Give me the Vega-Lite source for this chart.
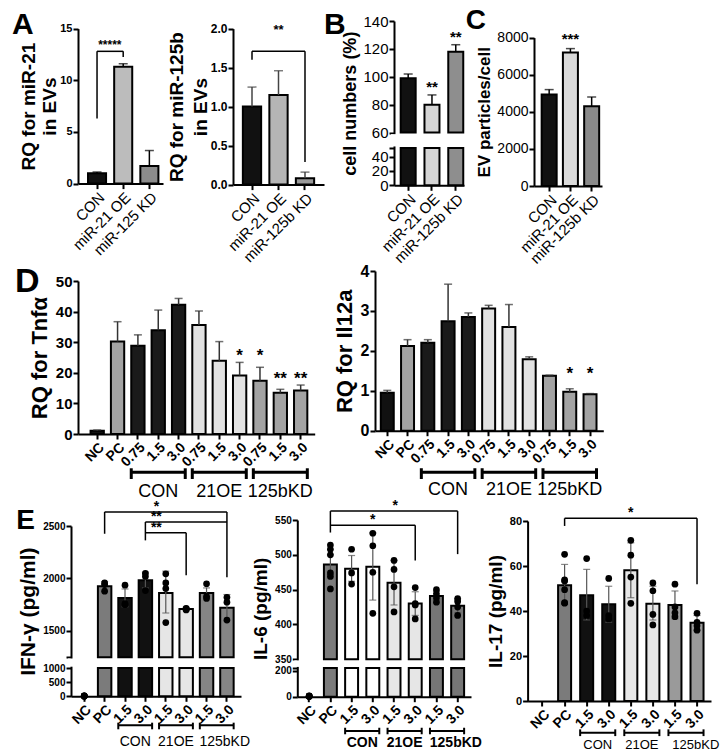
{
"$schema": "https://vega.github.io/schema/vega-lite/v6.json",
"background": "white",
"padding": {"left": 12, "top": 6, "right": 2, "bottom": 2},
"autosize": {"type": "pad"},
"config": {
 "view": {"stroke": null},
 "font": "Liberation Sans",
 "axis": {"domainColor": "#000", "domainWidth": 2, "tickColor": "#000", "tickWidth": 2, "tickSize": 5, "labelColor": "#000", "titleColor": "#000", "titleFontWeight": "bold", "grid": false, "labelPadding": 1, "labelOverlap": false, "labelFont": "Liberation Sans", "titleFont": "Liberation Sans"},
 "title": {"font": "Liberation Sans", "fontWeight": "bold", "color": "#000", "anchor": "start", "frame": "group"},
 "text": {"font": "Liberation Sans", "color": "#000"},
 "rule": {"color": "#000"},
 "tick": {"color": "#000"}
},
"datasets": {
 "a1": [{"cat":"CON","mean":1.0,"err":1.12},{"cat":"miR-21 OE","mean":11.3,"err":11.6},{"cat":"miR-125 KD","mean":1.7,"err":3.2}],
 "a2": [{"cat":"CON","mean":1.0,"err":1.25},{"cat":"miR-21 OE","mean":1.15,"err":1.46},{"cat":"miR-125b KD","mean":0.08,"err":0.16}],
 "b": [{"cat":"CON","mean":99,"err":102,"sig":""},{"cat":"miR-21 OE","mean":80,"err":87,"sig":"**"},{"cat":"miR-125b KD","mean":118,"err":123,"sig":"**"}],
 "c": [{"cat":"CON","mean":4927,"err":5197,"sig":""},{"cat":"miR-21 OE","mean":7191,"err":7407,"sig":"***"},{"cat":"miR-125b KD","mean":4296,"err":4798,"sig":""}],
 "d1": [
  {"cat":"NC","grp":"NC","mean":1.1,"err":1.3},
  {"cat":"PC","grp":"PC","mean":30.2,"err":36.7},
  {"cat":"CON 0.75","grp":"CON","mean":28.8,"err":32.4},
  {"cat":"CON 1.5","grp":"CON","mean":33.9,"err":40.5},
  {"cat":"CON 3.0","grp":"CON","mean":42.2,"err":44.3},
  {"cat":"21OE 0.75","grp":"21OE","mean":35.6,"err":40.2},
  {"cat":"21OE 1.5","grp":"21OE","mean":23.9,"err":30.2},
  {"cat":"21OE 3.0","grp":"21OE","mean":19.1,"err":23.4},
  {"cat":"125bKD 0.75","grp":"125bKD","mean":17.4,"err":21.8},
  {"cat":"125bKD 1.5","grp":"125bKD","mean":13.5,"err":14.6},
  {"cat":"125bKD 3.0","grp":"125bKD","mean":14.2,"err":16.0}],
 "d2": [
  {"cat":"NC","grp":"NC","mean":0.95,"err":1.01},
  {"cat":"PC","grp":"PC","mean":2.12,"err":2.28},
  {"cat":"CON 0.75","grp":"CON","mean":2.2,"err":2.28},
  {"cat":"CON 1.5","grp":"CON","mean":2.74,"err":3.67},
  {"cat":"CON 3.0","grp":"CON","mean":2.85,"err":2.95},
  {"cat":"21OE 0.75","grp":"21OE","mean":3.06,"err":3.14},
  {"cat":"21OE 1.5","grp":"21OE","mean":2.6,"err":3.16},
  {"cat":"21OE 3.0","grp":"21OE","mean":1.79,"err":1.85},
  {"cat":"125bKD 0.75","grp":"125bKD","mean":1.375,"err":1.39},
  {"cat":"125bKD 1.5","grp":"125bKD","mean":0.975,"err":1.05},
  {"cat":"125bKD 3.0","grp":"125bKD","mean":0.91,"err":0.93}],
 "dsig1": [{"cat":"21OE 3.0","sig":"*"},{"cat":"125bKD 0.75","sig":"*"},{"cat":"125bKD 1.5","sig":"**"},{"cat":"125bKD 3.0","sig":"**"}],
 "dsig2": [{"cat":"125bKD 1.5","sig":"*"},{"cat":"125bKD 3.0","sig":"*"}],
 "dgroups": [{"g":"CON","first":"CON 0.75","last":"CON 3.0","mid":"CON 1.5"},{"g":"21OE","first":"21OE 0.75","last":"21OE 3.0","mid":"21OE 1.5"},{"g":"125bKD","first":"125bKD 0.75","last":"125bKD 3.0","mid":"125bKD 1.5"}],
 "egroups": [{"g":"CON","first":"CON 1.5","last":"CON 3.0"},{"g":"21OE","first":"21OE 1.5","last":"21OE 3.0"},{"g":"125bKD","first":"125bKD 1.5","last":"125bKD 3.0"}],
 "e1": [
  {"cat":"PC","grp":"PC","mean":1926,"lo":1880,"hi":1970},
  {"cat":"CON 1.5","grp":"CON","mean":1815,"lo":1730,"hi":1900},
  {"cat":"CON 3.0","grp":"CON","mean":1984,"lo":1910,"hi":2060},
  {"cat":"21OE 1.5","grp":"21OE","mean":1862,"lo":1671,"hi":2070},
  {"cat":"21OE 3.0","grp":"21OE","mean":1710,"lo":1695,"hi":1725},
  {"cat":"125bKD 1.5","grp":"125bKD","mean":1862,"lo":1815,"hi":1910},
  {"cat":"125bKD 3.0","grp":"125bKD","mean":1720,"lo":1600,"hi":1847}],
 "e1dots": [
  {"cat":"NC","v":5},{"cat":"NC","v":10},{"cat":"NC","v":15},{"cat":"NC","v":8},{"cat":"NC","v":12},
  {"cat":"PC","v":1958},{"cat":"PC","v":1942},{"cat":"PC","v":1879},
  {"cat":"CON 1.5","v":1936},{"cat":"CON 1.5","v":1760},{"cat":"CON 1.5","v":1750},
  {"cat":"CON 3.0","v":2050},{"cat":"CON 3.0","v":2020},{"cat":"CON 3.0","v":1885},
  {"cat":"21OE 1.5","v":2044},{"cat":"21OE 1.5","v":1958},{"cat":"21OE 1.5","v":1904},{"cat":"21OE 1.5","v":1580},
  {"cat":"21OE 3.0","v":1700},{"cat":"21OE 3.0","v":1715},{"cat":"21OE 3.0","v":1710},
  {"cat":"125bKD 1.5","v":1949},{"cat":"125bKD 1.5","v":1830},{"cat":"125bKD 1.5","v":1810},
  {"cat":"125bKD 3.0","v":1821},{"cat":"125bKD 3.0","v":1774},{"cat":"125bKD 3.0","v":1604}],
 "e2": [
  {"cat":"PC","grp":"PC","mean":486,"lo":472,"hi":500},
  {"cat":"CON 1.5","grp":"CON","mean":480,"lo":462,"hi":499},
  {"cat":"CON 3.0","grp":"CON","mean":483,"lo":435,"hi":532},
  {"cat":"21OE 1.5","grp":"21OE","mean":460,"lo":428,"hi":492},
  {"cat":"21OE 3.0","grp":"21OE","mean":430,"lo":413,"hi":447},
  {"cat":"125bKD 1.5","grp":"125bKD","mean":441,"lo":434,"hi":448},
  {"cat":"125bKD 3.0","grp":"125bKD","mean":427,"lo":417,"hi":437}],
 "e2dots": [
  {"cat":"NC","v":2},{"cat":"NC","v":4},{"cat":"NC","v":6},{"cat":"NC","v":3},{"cat":"NC","v":5},
  {"cat":"PC","v":514},{"cat":"PC","v":508},{"cat":"PC","v":500},{"cat":"PC","v":474},{"cat":"PC","v":469},{"cat":"PC","v":451},
  {"cat":"CON 1.5","v":508},{"cat":"CON 1.5","v":474},{"cat":"CON 1.5","v":458},
  {"cat":"CON 3.0","v":531},{"cat":"CON 3.0","v":513},{"cat":"CON 3.0","v":475},{"cat":"CON 3.0","v":416},
  {"cat":"21OE 1.5","v":492},{"cat":"21OE 1.5","v":479},{"cat":"21OE 1.5","v":454},{"cat":"21OE 1.5","v":418},
  {"cat":"21OE 3.0","v":453},{"cat":"21OE 3.0","v":430},{"cat":"21OE 3.0","v":428},{"cat":"21OE 3.0","v":408},
  {"cat":"125bKD 1.5","v":450},{"cat":"125bKD 1.5","v":444},{"cat":"125bKD 1.5","v":438},{"cat":"125bKD 1.5","v":432},
  {"cat":"125bKD 3.0","v":437},{"cat":"125bKD 3.0","v":433},{"cat":"125bKD 3.0","v":425},{"cat":"125bKD 3.0","v":413}],
 "e3": [
  {"cat":"PC","grp":"PC","mean":51.5,"lo":43,"hi":60.7},
  {"cat":"CON 1.5","grp":"CON","mean":47,"lo":36,"hi":58.5},
  {"cat":"CON 3.0","grp":"CON","mean":43,"lo":35,"hi":51},
  {"cat":"21OE 1.5","grp":"21OE","mean":58.1,"lo":45.9,"hi":70.3},
  {"cat":"21OE 3.0","grp":"21OE","mean":43.2,"lo":36,"hi":51},
  {"cat":"125bKD 1.5","grp":"125bKD","mean":42.7,"lo":36.5,"hi":48.9},
  {"cat":"125bKD 3.0","grp":"125bKD","mean":34.8,"lo":31.5,"hi":38}],
 "e3dots": [
  {"cat":"PC","v":65.2},{"cat":"PC","v":53.8},{"cat":"PC","v":53.3},{"cat":"PC","v":43.7},{"cat":"PC","v":43.5},{"cat":"PC","v":49.5},
  {"cat":"CON 1.5","v":63.3},{"cat":"CON 1.5","v":40},{"cat":"CON 1.5","v":38},
  {"cat":"CON 3.0","v":54.5},{"cat":"CON 3.0","v":38},{"cat":"CON 3.0","v":36.5},
  {"cat":"21OE 1.5","v":71.4},{"cat":"21OE 1.5","v":64.8},{"cat":"21OE 1.5","v":55.1},{"cat":"21OE 1.5","v":43.4},
  {"cat":"21OE 3.0","v":52.5},{"cat":"21OE 3.0","v":49},{"cat":"21OE 3.0","v":38.5},{"cat":"21OE 3.0","v":33.8},
  {"cat":"125bKD 1.5","v":51.9},{"cat":"125bKD 1.5","v":41.8},{"cat":"125bKD 1.5","v":39.2},{"cat":"125bKD 1.5","v":37.5},
  {"cat":"125bKD 3.0","v":39},{"cat":"125bKD 3.0","v":35},{"cat":"125bKD 3.0","v":33.5},{"cat":"125bKD 3.0","v":31.5}]
},
"spacing": -4,
"resolve": {"scale": {"fill": "independent"}},
"vconcat": [
 {"hconcat": [
  {"width": 85, "height": 162.6,
   "title": {"text": "A", "fontSize": 30, "dx": -66, "offset": -18.9},
   "layer": [
    {"data": {"name": "a1"}, "mark": {"type": "bar", "stroke": "#000", "strokeWidth": 2},
     "encoding": {
      "x": {"field": "cat", "type": "nominal", "scale": {"domain": ["CON","miR-21 OE","miR-125 KD"], "paddingInner": 0.31, "paddingOuter": 0.279, "align": 0.685}, "axis": {"title": null, "labelAngle": -45, "labelFontSize": 15}},
      "y": {"field": "mean", "type": "quantitative", "scale": {"domain": [0, 15], "range": [162.6, 7.6], "nice": false}, "axis": {"values": [0,5,10,15], "tickCount": 20, "title": ["RQ for miR-21", "in EVs"], "titleFontSize": 19, "titleLineHeight": 21, "titlePadding": 0, "labelFontSize": 11, "labelFontWeight": "bold"}},
      "fill": {"field": "cat", "type": "nominal", "scale": {"domain": ["CON","miR-21 OE","miR-125 KD"], "range": ["#111111","#bcbcbc","#8c8c8c"]}, "legend": null}}},
    {"data": {"name": "a1"}, "mark": {"type": "rule", "strokeWidth": 1.5}, "encoding": {"x": {"field": "cat", "type": "nominal"}, "y": {"field": "mean", "type": "quantitative"}, "y2": {"field": "err"}}},
    {"data": {"name": "a1"}, "mark": {"type": "tick", "thickness": 1.5, "size": 9}, "encoding": {"x": {"field": "cat", "type": "nominal"}, "y": {"field": "err", "type": "quantitative"}}},
    {"data": {"values": [{"a": "CON", "b": "miR-21 OE", "lab": "*****"}]}, "mark": {"type": "rule", "strokeWidth": 1.5}, "encoding": {"x": {"field": "a", "type": "nominal"}, "x2": {"field": "b"}, "y": {"datum": 12.8}}},
    {"data": {"values": [{"a": "CON", "b": "miR-21 OE", "lab": "*****"}]}, "mark": {"type": "rule", "strokeWidth": 1.5}, "encoding": {"x": {"field": "a", "type": "nominal"}, "y": {"datum": 12.8}, "y2": {"datum": 6.3}}},
    {"data": {"values": [{"a": "CON", "b": "miR-21 OE", "lab": "*****"}]}, "mark": {"type": "rule", "strokeWidth": 1.5}, "encoding": {"x": {"field": "b", "type": "nominal"}, "y": {"datum": 12.8}, "y2": {"datum": 12.25}}},
    {"data": {"values": [{"a": "CON", "b": "miR-21 OE", "lab": "*****"}]}, "mark": {"type": "text", "fontSize": 12, "fontWeight": "bold", "baseline": "alphabetic", "dy": -2}, "encoding": {"x": {"field": "a", "type": "nominal", "bandPosition": 1.21}, "y": {"datum": 12.8}, "text": {"field": "lab"}}}
   ]},
  {"width": 91, "height": 163.6,
   "layer": [
    {"data": {"name": "a2"}, "mark": {"type": "bar", "stroke": "#000", "strokeWidth": 2},
     "encoding": {
      "x": {"field": "cat", "type": "nominal", "scale": {"domain": ["CON","miR-21 OE","miR-125b KD"], "paddingInner": 0.31, "paddingOuter": 0.372, "align": 0.5}, "axis": {"title": null, "labelAngle": -45, "labelFontSize": 15}},
      "y": {"field": "mean", "type": "quantitative", "scale": {"domain": [0, 2], "range": [163.6, 7.6], "nice": false}, "axis": {"values": [0,0.5,1,1.5,2], "tickCount": 20, "format": ".1f", "title": ["RQ for miR-125b", "in EVs"], "titleFontSize": 19, "titleLineHeight": 24, "titlePadding": 0, "labelFontSize": 12, "labelFontWeight": "bold"}},
      "fill": {"field": "cat", "type": "nominal", "scale": {"domain": ["CON","miR-21 OE","miR-125b KD"], "range": ["#111111","#b5b5b5","#999999"]}, "legend": null}}},
    {"data": {"name": "a2"}, "mark": {"type": "rule", "strokeWidth": 1.5, "color": "#444"}, "encoding": {"x": {"field": "cat", "type": "nominal"}, "y": {"field": "mean", "type": "quantitative"}, "y2": {"field": "err"}}},
    {"data": {"name": "a2"}, "mark": {"type": "tick", "thickness": 1.5, "size": 9, "color": "#444"}, "encoding": {"x": {"field": "cat", "type": "nominal"}, "y": {"field": "err", "type": "quantitative"}}},
    {"data": {"values": [{"a": "CON", "b": "miR-125b KD"}]}, "mark": {"type": "rule", "strokeWidth": 1.5}, "encoding": {"x": {"field": "a", "type": "nominal"}, "x2": {"field": "b"}, "y": {"datum": 1.71}}},
    {"data": {"values": [{"a": "CON", "b": "miR-125b KD"}]}, "mark": {"type": "rule", "strokeWidth": 1.5}, "encoding": {"x": {"field": "a", "type": "nominal"}, "y": {"datum": 1.71}, "y2": {"datum": 1.6}}},
    {"data": {"values": [{"a": "CON", "b": "miR-125b KD"}]}, "mark": {"type": "rule", "strokeWidth": 1.5}, "encoding": {"x": {"field": "b", "type": "nominal"}, "y": {"datum": 1.71}, "y2": {"datum": 0.29}}},
    {"data": {"values": [{"m": "miR-21 OE", "lab": "**"}]}, "mark": {"type": "text", "fontSize": 13, "fontWeight": "bold", "baseline": "alphabetic"}, "encoding": {"x": {"field": "m", "type": "nominal"}, "y": {"datum": 1.93}, "text": {"field": "lab"}}}
   ]},
  {"width": 70, "height": 164.3,
   "title": {"text": "B", "fontSize": 30, "dx": -70, "offset": -25.9},
   "layer": [
    {"data": {"name": "b"}, "mark": {"type": "bar", "stroke": "#000", "strokeWidth": 2},
     "encoding": {
      "x": {"field": "cat", "type": "nominal", "scale": {"domain": ["CON","miR-21 OE","miR-125b KD"], "paddingInner": 0.37, "paddingOuter": 0.156, "align": 0.9}, "axis": {"title": null, "labelAngle": -45, "labelFontSize": 15}},
      "y": {"field": "mean", "type": "quantitative", "scale": {"domain": [0, 52, 60, 140], "range": [164.3, 127, 111.6, 0], "nice": false, "zero": false}, "axis": {"values": [0,20,40,52,60,80,100,120,140], "tickCount": 20, "labelExpr": "datum.value == 52 ? '' : datum.label", "title": "cell numbers (%)", "titleFontSize": 18, "titlePadding": 3, "labelFontSize": 15}},
      "y2": {"datum": 60},
      "fill": {"field": "cat", "type": "nominal", "scale": {"domain": ["CON","miR-21 OE","miR-125b KD"], "range": ["#111111","#d5d5d5","#8e8e8e"]}, "legend": null}}},
    {"data": {"name": "b"}, "mark": {"type": "bar", "stroke": "#000", "strokeWidth": 2},
     "encoding": {"x": {"field": "cat", "type": "nominal"}, "y": {"datum": 52}, "y2": {"datum": 0}, "fill": {"field": "cat", "type": "nominal", "legend": null}}},
    {"data": {"values": [{"c": "CON"}]}, "mark": {"type": "rule", "color": "white", "strokeWidth": 6}, "encoding": {"x": {"field": "c", "type": "nominal", "bandPosition": -0.446}, "y": {"datum": 52.8}, "y2": {"datum": 59.2}}},
    {"data": {"name": "b"}, "mark": {"type": "rule", "strokeWidth": 1.5}, "encoding": {"x": {"field": "cat", "type": "nominal"}, "y": {"field": "mean", "type": "quantitative"}, "y2": {"field": "err"}}},
    {"data": {"name": "b"}, "mark": {"type": "tick", "thickness": 1.5, "size": 9}, "encoding": {"x": {"field": "cat", "type": "nominal"}, "y": {"field": "err", "type": "quantitative"}}},
    {"data": {"name": "b"}, "mark": {"type": "text", "fontSize": 15, "fontWeight": "bold", "baseline": "alphabetic", "dy": -3}, "encoding": {"x": {"field": "cat", "type": "nominal"}, "y": {"field": "err", "type": "quantitative"}, "text": {"field": "sig"}}}
   ]},
  {"width": 68, "height": 165,
   "title": {"text": "C", "fontSize": 28, "frame": "bounds", "dx": -10, "offset": -13.5},
   "layer": [
    {"data": {"name": "c"}, "mark": {"type": "bar", "stroke": "#000", "strokeWidth": 2},
     "encoding": {
      "x": {"field": "cat", "type": "nominal", "scale": {"domain": ["CON","miR-21 OE","miR-125b KD"], "paddingInner": 0.294, "paddingOuter": 0.247, "align": 0.73}, "axis": {"title": null, "labelAngle": -45, "labelFontSize": 15}},
      "y": {"field": "mean", "type": "quantitative", "scale": {"domain": [0, 8000], "range": [165, 16.6], "nice": false}, "axis": {"values": [0,2000,4000,6000,8000], "tickCount": 20, "format": "d", "title": "EV particles/cell", "titleFontSize": 17, "titlePadding": 3, "labelFontSize": 14}},
      "fill": {"field": "cat", "type": "nominal", "scale": {"domain": ["CON","miR-21 OE","miR-125b KD"], "range": ["#111111","#dadada","#8a8a8a"]}, "legend": null}}},
    {"data": {"name": "c"}, "mark": {"type": "rule", "strokeWidth": 1.5}, "encoding": {"x": {"field": "cat", "type": "nominal"}, "y": {"field": "mean", "type": "quantitative"}, "y2": {"field": "err"}}},
    {"data": {"name": "c"}, "mark": {"type": "tick", "thickness": 1.5, "size": 9}, "encoding": {"x": {"field": "cat", "type": "nominal"}, "y": {"field": "err", "type": "quantitative"}}},
    {"data": {"name": "c"}, "mark": {"type": "text", "fontSize": 15, "fontWeight": "bold", "baseline": "alphabetic", "dy": -5}, "encoding": {"x": {"field": "cat", "type": "nominal"}, "y": {"field": "err", "type": "quantitative"}, "text": {"field": "sig"}}}
   ]}
 ], "spacing": 70, "bounds": "flush", "resolve": {"scale": {"fill": "independent"}}},
 {"vconcat": [
  {"hconcat": [
   {"width": 236.7, "height": 163,
    "title": {"text": "D", "fontSize": 34, "dx": -63, "offset": -27.5},
    "layer": [
     {"data": {"name": "d1"}, "mark": {"type": "bar", "stroke": "#000", "strokeWidth": 2},
      "encoding": {
       "x": {"field": "cat", "type": "nominal", "scale": {"domain": ["NC","PC","CON 0.75","CON 1.5","CON 3.0","21OE 0.75","21OE 1.5","21OE 3.0","125bKD 0.75","125bKD 1.5","125bKD 3.0"], "paddingInner": 0.346, "paddingOuter": 0.49, "align": 0.63}, "axis": {"title": null, "labelAngle": -45, "labelFontSize": 14, "labelFontWeight": "bold", "labelExpr": "indexof(datum.value, ' ') > 0 ? split(datum.value, ' ')[1] : datum.value"}},
       "y": {"field": "mean", "type": "quantitative", "scale": {"domain": [0, 50], "range": [163, 10], "nice": false}, "axis": {"values": [0,10,20,30,40,50], "tickCount": 20, "format": "d", "title": "RQ for Tnfα", "titleFontSize": 22, "titlePadding": 4, "labelFontSize": 15, "labelFontWeight": "bold"}},
       "fill": {"field": "grp", "type": "nominal", "scale": {"domain": ["NC","PC","CON","21OE","125bKD"], "range": ["#111111","#a3a3a3","#1a1a1a","#e2e2e2","#a3a3a3"]}, "legend": null}}},
     {"data": {"name": "d1"}, "mark": {"type": "rule", "strokeWidth": 1.5, "color": "#333"}, "encoding": {"x": {"field": "cat", "type": "nominal"}, "y": {"field": "mean", "type": "quantitative"}, "y2": {"field": "err"}}},
     {"data": {"name": "d1"}, "mark": {"type": "tick", "thickness": 1.5, "size": 8, "color": "#333"}, "encoding": {"x": {"field": "cat", "type": "nominal"}, "y": {"field": "err", "type": "quantitative"}}},
     {"mark": {"type": "rule", "strokeDash": [2.5, 3], "strokeWidth": 2.5}, "encoding": {"y": {"datum": 30.4}}},
     {"data": {"name": "dsig1"}, "transform": [{"filter": "datum.sig == '*'"}], "mark": {"type": "text", "fontSize": 17, "fontWeight": "bold", "baseline": "alphabetic"}, "encoding": {"x": {"field": "cat", "type": "nominal"}, "y": {"datum": 23.8}, "text": {"field": "sig"}}},
     {"data": {"name": "dsig1"}, "transform": [{"filter": "datum.sig == '**'"}], "mark": {"type": "text", "fontSize": 17, "fontWeight": "bold", "baseline": "alphabetic"}, "encoding": {"x": {"field": "cat", "type": "nominal"}, "y": {"datum": 16.4}, "text": {"field": "sig"}}},
     {"data": {"name": "dgroups"}, "mark": {"type": "rule", "strokeWidth": 3}, "encoding": {"x": {"field": "first", "type": "nominal", "bandPosition": 0}, "x2": {"field": "last", "bandPosition": 1}, "y": {"datum": -12.5}}},
     {"data": {"name": "dgroups"}, "mark": {"type": "rule", "strokeWidth": 3}, "encoding": {"x": {"field": "first", "type": "nominal", "bandPosition": 0}, "y": {"datum": -11.2}, "y2": {"datum": -14.7}}},
     {"data": {"name": "dgroups"}, "mark": {"type": "rule", "strokeWidth": 3}, "encoding": {"x": {"field": "last", "type": "nominal", "bandPosition": 1}, "y": {"datum": -11.2}, "y2": {"datum": -14.7}}},
     {"data": {"name": "dgroups"}, "mark": {"type": "text", "fontSize": 18, "baseline": "alphabetic"}, "encoding": {"x": {"field": "mid", "type": "nominal"}, "y": {"datum": -20.6}, "text": {"field": "g"}}}
    ]},
   {"width": 228.3, "height": 159.7,
    "layer": [
     {"data": {"name": "d2"}, "mark": {"type": "bar", "stroke": "#000", "strokeWidth": 2},
      "encoding": {
       "x": {"field": "cat", "type": "nominal", "scale": {"domain": ["NC","PC","CON 0.75","CON 1.5","CON 3.0","21OE 0.75","21OE 1.5","21OE 3.0","125bKD 0.75","125bKD 1.5","125bKD 3.0"], "paddingInner": 0.36, "paddingOuter": 0.31, "align": 0.46}, "axis": {"title": null, "labelAngle": -45, "labelFontSize": 14, "labelFontWeight": "bold", "labelExpr": "indexof(datum.value, ' ') > 0 ? split(datum.value, ' ')[1] : datum.value"}},
       "y": {"field": "mean", "type": "quantitative", "scale": {"domain": [0, 4], "nice": false}, "axis": {"values": [0,1,2,3,4], "tickCount": 20, "format": "d", "title": "RQ for Il12a", "titleFontSize": 22, "titlePadding": 4, "labelFontSize": 16, "labelFontWeight": "bold"}},
       "fill": {"field": "grp", "type": "nominal", "scale": {"domain": ["NC","PC","CON","21OE","125bKD"], "range": ["#111111","#a3a3a3","#1a1a1a","#e2e2e2","#a3a3a3"]}, "legend": null}}},
     {"data": {"name": "d2"}, "mark": {"type": "rule", "strokeWidth": 1.5, "color": "#333"}, "encoding": {"x": {"field": "cat", "type": "nominal"}, "y": {"field": "mean", "type": "quantitative"}, "y2": {"field": "err"}}},
     {"data": {"name": "d2"}, "mark": {"type": "tick", "thickness": 1.5, "size": 8, "color": "#333"}, "encoding": {"x": {"field": "cat", "type": "nominal"}, "y": {"field": "err", "type": "quantitative"}}},
     {"mark": {"type": "rule", "strokeDash": [2.5, 3], "strokeWidth": 2.5}, "encoding": {"y": {"datum": 2.12}}},
     {"data": {"name": "dsig2"}, "mark": {"type": "text", "fontSize": 17, "fontWeight": "bold", "baseline": "alphabetic"}, "encoding": {"x": {"field": "cat", "type": "nominal"}, "y": {"datum": 1.3}, "text": {"field": "sig"}}},
     {"data": {"name": "dgroups"}, "mark": {"type": "rule", "strokeWidth": 3}, "encoding": {"x": {"field": "first", "type": "nominal", "bandPosition": 0}, "x2": {"field": "last", "bandPosition": 1}, "y": {"datum": -1.04}}},
     {"data": {"name": "dgroups"}, "mark": {"type": "rule", "strokeWidth": 3}, "encoding": {"x": {"field": "first", "type": "nominal", "bandPosition": 0}, "y": {"datum": -0.94}, "y2": {"datum": -1.21}}},
     {"data": {"name": "dgroups"}, "mark": {"type": "rule", "strokeWidth": 3}, "encoding": {"x": {"field": "last", "type": "nominal", "bandPosition": 1}, "y": {"datum": -0.94}, "y2": {"datum": -1.21}}},
     {"data": {"name": "dgroups"}, "mark": {"type": "text", "fontSize": 18, "baseline": "alphabetic"}, "encoding": {"x": {"field": "mid", "type": "nominal"}, "y": {"datum": -1.61}, "text": {"field": "g"}}}
    ]}
  ], "spacing": 60, "bounds": "flush", "resolve": {"scale": {"fill": "independent"}}},
  {"hconcat": [
   {"width": 163, "height": 176.3,
    "title": {"text": "E", "fontSize": 28, "dx": -61.7, "offset": -34.6},
    "layer": [
     {"data": {"name": "e1"}, "mark": {"type": "bar", "stroke": "#000", "strokeWidth": 2},
      "encoding": {
       "x": {"field": "cat", "type": "nominal", "scale": {"domain": ["NC","PC","CON 1.5","CON 3.0","21OE 1.5","21OE 3.0","125bKD 1.5","125bKD 3.0"], "range": [-7, 163], "paddingInner": 0.34, "paddingOuter": 0.34, "align": 0.47}, "axis": {"title": null, "labelAngle": -45, "labelFontSize": 14, "labelFontWeight": "bold", "labelExpr": "indexof(datum.value, ' ') > 0 ? split(datum.value, ' ')[1] : datum.value"}},
       "y": {"field": "mean", "type": "quantitative", "scale": {"domain": [0, 1000, 1250, 2500], "range": [176.3, 148, 137.2, 6], "nice": false, "zero": false}, "axis": {"offset": 7, "values": [0,500,1000,1250,1500,2000,2500], "tickCount": 20, "labelExpr": "datum.value == 1250 ? '' : datum.label", "format": "d", "title": "IFN-γ (pg/ml)", "titleFontSize": 21, "titlePadding": 4, "labelFontSize": 10, "labelFontWeight": "bold"}},
       "y2": {"datum": 1250},
       "fill": {"field": "grp", "type": "nominal", "scale": {"domain": ["PC","CON","21OE","125bKD"], "range": ["#7b7b7b","#111111","#e6e6e6","#858585"]}, "legend": null}}},
     {"data": {"name": "e1"}, "mark": {"type": "bar", "stroke": "#000", "strokeWidth": 2},
      "encoding": {"x": {"field": "cat", "type": "nominal"}, "y": {"datum": 1000}, "y2": {"datum": 0}, "fill": {"field": "grp", "type": "nominal", "legend": null}}},
     {"data": {"values": [{"c": "NC"}]}, "mark": {"type": "rule", "color": "white", "strokeWidth": 6}, "encoding": {"x": {"field": "c", "type": "nominal", "bandPosition": -0.486}, "y": {"datum": 1030}, "y2": {"datum": 1220}}},
     {"data": {"name": "e1"}, "mark": {"type": "rule", "strokeWidth": 1.2, "color": "#555"}, "encoding": {"x": {"field": "cat", "type": "nominal"}, "y": {"field": "lo", "type": "quantitative"}, "y2": {"field": "hi"}}},
     {"data": {"name": "e1"}, "mark": {"type": "tick", "thickness": 1.2, "size": 7, "color": "#555"}, "encoding": {"x": {"field": "cat", "type": "nominal"}, "y": {"field": "hi", "type": "quantitative"}}},
     {"data": {"name": "e1"}, "mark": {"type": "tick", "thickness": 1.2, "size": 7, "color": "#555"}, "encoding": {"x": {"field": "cat", "type": "nominal"}, "y": {"field": "lo", "type": "quantitative"}}},
     {"mark": {"type": "rule", "strokeDash": [2.5, 3], "strokeWidth": 2.5}, "encoding": {"y": {"datum": 2229}}},
     {"mark": {"type": "rule", "strokeDash": [2.5, 3], "strokeWidth": 2.5}, "encoding": {"y": {"datum": 2134}}},
     {"data": {"name": "e1dots"}, "mark": {"type": "circle", "size": 45, "color": "#000", "opacity": 1}, "encoding": {"x": {"field": "cat", "type": "nominal"}, "y": {"field": "v", "type": "quantitative"}}},
     {"data": {"name": "egroups"}, "mark": {"type": "rule", "strokeWidth": 2}, "encoding": {"x": {"field": "first", "type": "nominal", "bandPosition": 0}, "x2": {"field": "last", "bandPosition": 1}, "y": {"datum": -1025}}},
     {"data": {"name": "egroups"}, "mark": {"type": "rule", "strokeWidth": 2}, "encoding": {"x": {"field": "first", "type": "nominal", "bandPosition": 0}, "y": {"datum": -932}, "y2": {"datum": -1166}}},
     {"data": {"name": "egroups"}, "mark": {"type": "rule", "strokeWidth": 2}, "encoding": {"x": {"field": "last", "type": "nominal", "bandPosition": 1}, "y": {"datum": -932}, "y2": {"datum": -1166}}},
     {"data": {"name": "egroups"}, "transform": [{"filter": "datum.g != '125bKD'"}], "mark": {"type": "text", "fontSize": 14, "baseline": "alphabetic"}, "encoding": {"x": {"field": "first", "type": "nominal", "bandPosition": 1.257}, "y": {"datum": -1756}, "text": {"field": "g"}}},
     {"data": {"name": "egroups"}, "transform": [{"filter": "datum.g == '125bKD'"}], "mark": {"type": "text", "fontSize": 14, "baseline": "alphabetic"}, "encoding": {"x": {"field": "first", "type": "nominal", "bandPosition": 1.85}, "y": {"datum": -1756}, "text": {"field": "g"}}},
     {"data": {"values": [{"a": "PC", "b": "125bKD 3.0", "m": "21OE 1.5", "lab": "*"}]}, "mark": {"type": "rule", "strokeWidth": 1.5}, "encoding": {"x": {"field": "a", "type": "nominal"}, "x2": {"field": "b"}, "y": {"datum": 2634}}},
     {"data": {"values": [{"a": "PC", "b": "125bKD 3.0", "m": "21OE 1.5", "lab": "*"}]}, "mark": {"type": "rule", "strokeWidth": 1.5}, "encoding": {"x": {"field": "a", "type": "nominal"}, "y": {"datum": 2634}, "y2": {"datum": 2426}}},
     {"data": {"values": [{"a": "PC", "b": "125bKD 3.0", "m": "21OE 1.5", "lab": "*"}]}, "mark": {"type": "rule", "strokeWidth": 1.5}, "encoding": {"x": {"field": "b", "type": "nominal"}, "y": {"datum": 2634}, "y2": {"datum": 2012}}},
     {"data": {"values": [{"a": "PC", "b": "125bKD 3.0", "m": "21OE 1.5", "lab": "*"}]}, "mark": {"type": "text", "fontSize": 14, "fontWeight": "bold", "baseline": "alphabetic", "dy": -1}, "encoding": {"x": {"field": "m", "type": "nominal", "bandPosition": -0.2}, "y": {"datum": 2634}, "text": {"field": "lab"}}},
     {"data": {"values": [{"a": "CON 3.0", "b": "125bKD 3.0", "m": "21OE 1.5", "lab": "**"}]}, "mark": {"type": "rule", "strokeWidth": 1.5}, "encoding": {"x": {"field": "a", "type": "nominal"}, "x2": {"field": "b"}, "y": {"datum": 2538}}},
     {"data": {"values": [{"a": "CON 3.0", "b": "125bKD 3.0", "m": "21OE 1.5", "lab": "**"}]}, "mark": {"type": "rule", "strokeWidth": 1.5}, "encoding": {"x": {"field": "a", "type": "nominal"}, "y": {"datum": 2538}, "y2": {"datum": 2363}}},
     {"data": {"values": [{"a": "CON 3.0", "b": "125bKD 3.0", "m": "21OE 1.5", "lab": "**"}]}, "mark": {"type": "text", "fontSize": 14, "fontWeight": "bold", "baseline": "alphabetic", "dy": -1}, "encoding": {"x": {"field": "m", "type": "nominal", "bandPosition": -0.2}, "y": {"datum": 2538}, "text": {"field": "lab"}}},
     {"data": {"values": [{"a": "CON 3.0", "b": "21OE 3.0", "m": "21OE 1.5", "lab": "**"}]}, "mark": {"type": "rule", "strokeWidth": 1.5}, "encoding": {"x": {"field": "a", "type": "nominal"}, "x2": {"field": "b"}, "y": {"datum": 2436}}},
     {"data": {"values": [{"a": "CON 3.0", "b": "21OE 3.0", "m": "21OE 1.5", "lab": "**"}]}, "mark": {"type": "rule", "strokeWidth": 1.5}, "encoding": {"x": {"field": "b", "type": "nominal"}, "y": {"datum": 2436}, "y2": {"datum": 2031}}},
     {"data": {"values": [{"a": "CON 3.0", "b": "21OE 3.0", "m": "21OE 1.5", "lab": "**"}]}, "mark": {"type": "text", "fontSize": 14, "fontWeight": "bold", "baseline": "alphabetic", "dy": -1}, "encoding": {"x": {"field": "m", "type": "nominal", "bandPosition": -0.2}, "y": {"datum": 2436}, "text": {"field": "lab"}}}
    ]},
   {"width": 173.7, "height": 176.7,
    "layer": [
     {"data": {"name": "e2"}, "mark": {"type": "bar", "stroke": "#000", "strokeWidth": 2},
      "encoding": {
       "x": {"field": "cat", "type": "nominal", "scale": {"domain": ["NC","PC","CON 1.5","CON 3.0","21OE 1.5","21OE 3.0","125bKD 1.5","125bKD 3.0"], "paddingInner": 0.39, "paddingOuter": 0.29, "align": 0.44}, "axis": {"title": null, "labelAngle": -45, "labelFontSize": 14, "labelFontWeight": "bold", "labelExpr": "indexof(datum.value, ' ') > 0 ? split(datum.value, ' ')[1] : datum.value"}},
       "y": {"field": "mean", "type": "quantitative", "scale": {"domain": [0, 220, 350, 550], "range": [176.7, 148, 139.3, 0], "nice": false, "zero": false}, "axis": {"values": [0,200,220,350,400,450,500,550], "tickCount": 20, "labelExpr": "datum.value == 220 ? '' : datum.label", "title": "IL-6 (pg/ml)", "titleFontSize": 19, "titlePadding": 4, "labelFontSize": 10, "labelFontWeight": "bold"}},
       "y2": {"datum": 350},
       "fill": {"field": "grp", "type": "nominal", "scale": {"domain": ["PC","CON","21OE","125bKD"], "range": ["#7b7b7b","#ffffff","#e6e6e6","#767676"]}, "legend": null}}},
     {"data": {"name": "e2"}, "mark": {"type": "bar", "stroke": "#000", "strokeWidth": 2},
      "encoding": {"x": {"field": "cat", "type": "nominal"}, "y": {"datum": 220}, "y2": {"datum": 0}, "fill": {"field": "grp", "type": "nominal", "legend": null}}},
     {"data": {"values": [{"c": "NC"}]}, "mark": {"type": "rule", "color": "white", "strokeWidth": 6}, "encoding": {"x": {"field": "c", "type": "nominal", "bandPosition": -0.418}, "y": {"datum": 236}, "y2": {"datum": 334}}},
     {"data": {"name": "e2"}, "mark": {"type": "rule", "strokeWidth": 1.2, "color": "#555"}, "encoding": {"x": {"field": "cat", "type": "nominal"}, "y": {"field": "lo", "type": "quantitative"}, "y2": {"field": "hi"}}},
     {"data": {"name": "e2"}, "mark": {"type": "tick", "thickness": 1.2, "size": 7, "color": "#555"}, "encoding": {"x": {"field": "cat", "type": "nominal"}, "y": {"field": "hi", "type": "quantitative"}}},
     {"data": {"name": "e2"}, "mark": {"type": "tick", "thickness": 1.2, "size": 7, "color": "#555"}, "encoding": {"x": {"field": "cat", "type": "nominal"}, "y": {"field": "lo", "type": "quantitative"}}},
     {"data": {"name": "e2dots"}, "mark": {"type": "circle", "size": 45, "color": "#000", "opacity": 1}, "encoding": {"x": {"field": "cat", "type": "nominal"}, "y": {"field": "v", "type": "quantitative"}}},
     {"data": {"name": "egroups"}, "mark": {"type": "rule", "strokeWidth": 2}, "encoding": {"x": {"field": "first", "type": "nominal", "bandPosition": 0}, "x2": {"field": "last", "bandPosition": 1}, "y": {"datum": -263}}},
     {"data": {"name": "egroups"}, "mark": {"type": "rule", "strokeWidth": 2}, "encoding": {"x": {"field": "first", "type": "nominal", "bandPosition": 0}, "y": {"datum": -238}, "y2": {"datum": -288}}},
     {"data": {"name": "egroups"}, "mark": {"type": "rule", "strokeWidth": 2}, "encoding": {"x": {"field": "last", "type": "nominal", "bandPosition": 1}, "y": {"datum": -238}, "y2": {"datum": -288}}},
     {"data": {"name": "egroups"}, "transform": [{"filter": "datum.g != '125bKD'"}], "mark": {"type": "text", "fontSize": 14, "fontWeight": "bold", "baseline": "alphabetic"}, "encoding": {"x": {"field": "first", "type": "nominal", "bandPosition": 1.32}, "y": {"datum": -385}, "text": {"field": "g"}}},
     {"data": {"name": "egroups"}, "transform": [{"filter": "datum.g == '125bKD'"}], "mark": {"type": "text", "fontSize": 14, "fontWeight": "bold", "baseline": "alphabetic"}, "encoding": {"x": {"field": "first", "type": "nominal", "bandPosition": 2.0}, "y": {"datum": -385}, "text": {"field": "g"}}},
     {"data": {"values": [{"a": "PC", "b": "125bKD 3.0", "m": "21OE 1.5", "lab": "*"}]}, "mark": {"type": "rule", "strokeWidth": 1.5}, "encoding": {"x": {"field": "a", "type": "nominal"}, "x2": {"field": "b"}, "y": {"datum": 562.8}}},
     {"data": {"values": [{"a": "PC", "b": "125bKD 3.0", "m": "21OE 1.5", "lab": "*"}]}, "mark": {"type": "rule", "strokeWidth": 1.5}, "encoding": {"x": {"field": "a", "type": "nominal"}, "y": {"datum": 562.8}, "y2": {"datum": 532}}},
     {"data": {"values": [{"a": "PC", "b": "125bKD 3.0", "m": "21OE 1.5", "lab": "*"}]}, "mark": {"type": "rule", "strokeWidth": 1.5}, "encoding": {"x": {"field": "b", "type": "nominal"}, "y": {"datum": 562.8}, "y2": {"datum": 501}}},
     {"data": {"values": [{"a": "PC", "b": "125bKD 3.0", "m": "21OE 1.5", "lab": "*"}]}, "mark": {"type": "text", "fontSize": 14, "fontWeight": "bold", "baseline": "alphabetic", "dy": -1}, "encoding": {"x": {"field": "m", "type": "nominal", "bandPosition": 0.6}, "y": {"datum": 562.8}, "text": {"field": "lab"}}},
     {"data": {"values": [{"a": "PC", "b": "21OE 3.0", "m": "CON 3.0", "lab": "*"}]}, "mark": {"type": "rule", "strokeWidth": 1.5}, "encoding": {"x": {"field": "a", "type": "nominal"}, "x2": {"field": "b"}, "y": {"datum": 542.5}}},
     {"data": {"values": [{"a": "PC", "b": "21OE 3.0", "m": "CON 3.0", "lab": "*"}]}, "mark": {"type": "rule", "strokeWidth": 1.5}, "encoding": {"x": {"field": "b", "type": "nominal"}, "y": {"datum": 542.5}, "y2": {"datum": 491.7}}},
     {"data": {"values": [{"a": "PC", "b": "21OE 3.0", "m": "CON 3.0", "lab": "*"}]}, "mark": {"type": "text", "fontSize": 14, "fontWeight": "bold", "baseline": "alphabetic", "dy": -1}, "encoding": {"x": {"field": "m", "type": "nominal"}, "y": {"datum": 542.5}, "text": {"field": "lab"}}}
    ]},
   {"width": 183.4, "height": 181,
    "layer": [
     {"data": {"name": "e3"}, "mark": {"type": "bar", "stroke": "#000", "strokeWidth": 2},
      "encoding": {
       "x": {"field": "cat", "type": "nominal", "scale": {"domain": ["NC","PC","CON 1.5","CON 3.0","21OE 1.5","21OE 3.0","125bKD 1.5","125bKD 3.0"], "paddingInner": 0.41, "paddingOuter": 0.36, "align": 0.53}, "axis": {"title": null, "labelAngle": -45, "labelFontSize": 14, "labelFontWeight": "bold", "labelExpr": "indexof(datum.value, ' ') > 0 ? split(datum.value, ' ')[1] : datum.value"}},
       "y": {"field": "mean", "type": "quantitative", "scale": {"domain": [0, 80], "range": [181, 1], "nice": false}, "axis": {"values": [0,20,40,60,80], "tickCount": 20, "title": "IL-17 (pg/ml)", "titleFontSize": 19, "titlePadding": 4, "labelFontSize": 11, "labelFontWeight": "bold"}},
       "fill": {"field": "grp", "type": "nominal", "scale": {"domain": ["PC","CON","21OE","125bKD"], "range": ["#7b7b7b","#111111","#e6e6e6","#9a9a9a"]}, "legend": null}}},
     {"data": {"name": "e3"}, "mark": {"type": "rule", "strokeWidth": 1.2, "color": "#555"}, "encoding": {"x": {"field": "cat", "type": "nominal"}, "y": {"field": "lo", "type": "quantitative"}, "y2": {"field": "hi"}}},
     {"data": {"name": "e3"}, "mark": {"type": "tick", "thickness": 1.2, "size": 7, "color": "#555"}, "encoding": {"x": {"field": "cat", "type": "nominal"}, "y": {"field": "hi", "type": "quantitative"}}},
     {"data": {"name": "e3"}, "mark": {"type": "tick", "thickness": 1.2, "size": 7, "color": "#555"}, "encoding": {"x": {"field": "cat", "type": "nominal"}, "y": {"field": "lo", "type": "quantitative"}}},
     {"mark": {"type": "rule", "strokeDash": [2.5, 3], "strokeWidth": 2.5}, "encoding": {"y": {"datum": 53.6}}},
     {"mark": {"type": "rule", "strokeDash": [2.5, 3], "strokeWidth": 2.5}, "encoding": {"y": {"datum": 44.7}}},
     {"data": {"name": "e3dots"}, "mark": {"type": "circle", "size": 45, "color": "#000", "opacity": 1}, "encoding": {"x": {"field": "cat", "type": "nominal"}, "y": {"field": "v", "type": "quantitative"}}},
     {"data": {"name": "egroups"}, "mark": {"type": "rule", "strokeWidth": 2}, "encoding": {"x": {"field": "first", "type": "nominal", "bandPosition": 0}, "x2": {"field": "last", "bandPosition": 1}, "y": {"datum": -14.1}}},
     {"data": {"name": "egroups"}, "mark": {"type": "rule", "strokeWidth": 2}, "encoding": {"x": {"field": "first", "type": "nominal", "bandPosition": 0}, "y": {"datum": -12.6}, "y2": {"datum": -15.6}}},
     {"data": {"name": "egroups"}, "mark": {"type": "rule", "strokeWidth": 2}, "encoding": {"x": {"field": "last", "type": "nominal", "bandPosition": 1}, "y": {"datum": -12.6}, "y2": {"datum": -15.6}}},
     {"data": {"name": "egroups"}, "transform": [{"filter": "datum.g != '125bKD'"}], "mark": {"type": "text", "fontSize": 13, "baseline": "alphabetic"}, "encoding": {"x": {"field": "first", "type": "nominal", "bandPosition": 1.35}, "y": {"datum": -21.5}, "text": {"field": "g"}}},
     {"data": {"name": "egroups"}, "transform": [{"filter": "datum.g == '125bKD'"}], "mark": {"type": "text", "fontSize": 13, "baseline": "alphabetic"}, "encoding": {"x": {"field": "first", "type": "nominal", "bandPosition": 2.1}, "y": {"datum": -21.5}, "text": {"field": "g"}}},
     {"data": {"values": [{"a": "PC", "b": "125bKD 3.0", "m": "21OE 1.5", "lab": "*"}]}, "mark": {"type": "rule", "strokeWidth": 1.5}, "encoding": {"x": {"field": "a", "type": "nominal"}, "x2": {"field": "b"}, "y": {"datum": 81.2}}},
     {"data": {"values": [{"a": "PC", "b": "125bKD 3.0", "m": "21OE 1.5", "lab": "*"}]}, "mark": {"type": "rule", "strokeWidth": 1.5}, "encoding": {"x": {"field": "a", "type": "nominal"}, "y": {"datum": 81.2}, "y2": {"datum": 77.8}}},
     {"data": {"values": [{"a": "PC", "b": "125bKD 3.0", "m": "21OE 1.5", "lab": "*"}]}, "mark": {"type": "rule", "strokeWidth": 1.5}, "encoding": {"x": {"field": "b", "type": "nominal"}, "y": {"datum": 81.2}, "y2": {"datum": 51.9}}},
     {"data": {"values": [{"a": "PC", "b": "125bKD 3.0", "m": "21OE 1.5", "lab": "*"}]}, "mark": {"type": "text", "fontSize": 14, "fontWeight": "bold", "baseline": "alphabetic", "dy": -1}, "encoding": {"x": {"field": "m", "type": "nominal"}, "y": {"datum": 81.2}, "text": {"field": "lab"}}}
    ]}
  ], "spacing": 56.3, "bounds": "flush", "resolve": {"scale": {"fill": "independent"}}}
 ], "spacing": -3, "resolve": {"scale": {"fill": "independent"}}}
]
}
